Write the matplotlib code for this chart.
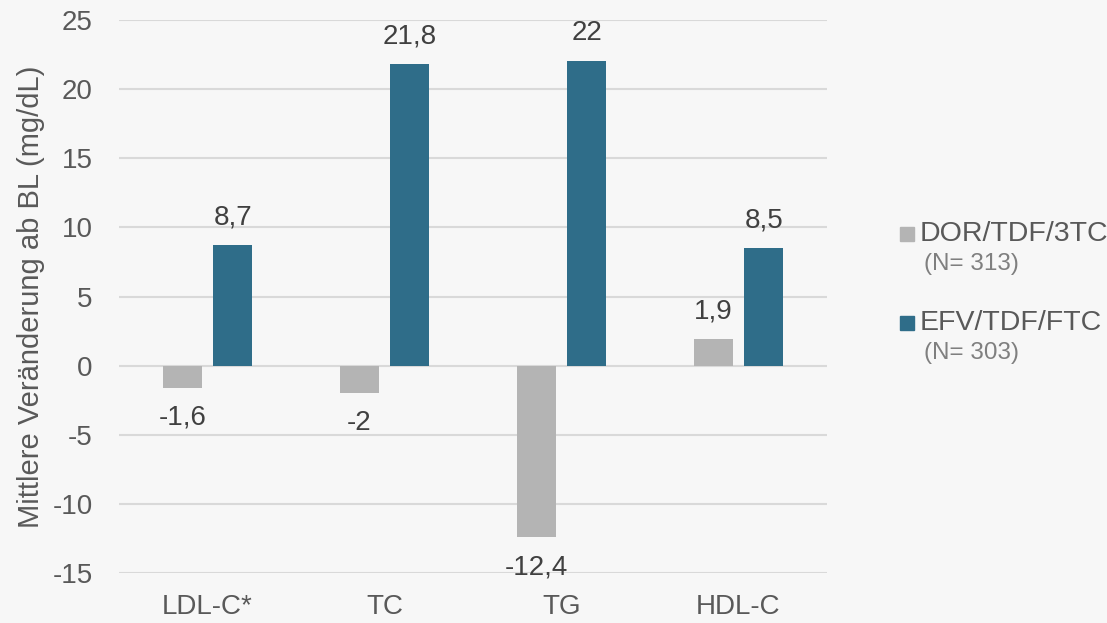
import matplotlib
matplotlib.use("Agg")
from matplotlib import pyplot as plt
from matplotlib import patches
import numpy as np

categories = ["LDL-C*", "TC", "TG", "HDL-C"]
dor_values = [-1.6, -2.0, -12.4, 1.9]
efv_values = [8.7, 21.8, 22.0, 8.5]
series_names = ["DOR/TDF/3TC", "EFV/TDF/FTC"]
series_n = ["(N= 313)", "(N= 303)"]
yticks = [-15, -10, -5, 0, 5, 10, 15, 20, 25]

gray = "#b4b4b4"
blue = "#2f6d89"
bg = "#f7f7f7"

plt.rcParams['font.family'] = ['Liberation Sans', 'DejaVu Sans']

fig = plt.figure(figsize=(11.07, 6.23), dpi=100, facecolor=bg)
ax = fig.add_axes([119/1107, 1-573/623, (827-119)/1107, 553/623])
ax.set_facecolor(bg)

x = np.arange(len(categories))
w = 0.22
off = 0.143

ax.bar(x - off, dor_values, w, color=gray, zorder=3)
ax.bar(x + off, efv_values, w, color=blue, zorder=3)

def fmt(v):
    s = ("%.1f" % v).replace(".", ",")
    if s.endswith(",0"):
        s = s[:-2]
    return s

# value labels: above positive bars, below negative ones
for vals, dx in ((dor_values, -off), (efv_values, off)):
    for xi, v in zip(x, vals):
        dy = 28 if v >= 0 else -30
        ax.annotate(fmt(v), (xi + dx, v), xytext=(0, dy), textcoords="offset pixels",
                    ha="center", va="center", fontsize=20, color="#404040", zorder=4)

ax.set_xlim(-0.5, len(categories) - 0.5)
ax.set_ylim(-15, 25)
ax.set_yticks(yticks)
ax.set_yticklabels([str(t) for t in yticks])
ax.set_xticks(x)
ax.set_xticklabels(categories)
ax.tick_params(axis="both", length=0, labelsize=20, colors="#595959")
ax.tick_params(axis="y", pad=19)
ax.tick_params(axis="x", pad=15)
for s in ax.spines.values():
    s.set_visible(False)
ax.grid(axis="y", color="#d9d9d9", lw=1.5, zorder=0)
ax.set_ylabel("Mittlere Veränderung ab BL (mg/dL)", fontsize=21, color="#595959", labelpad=5)

# legend drawn by hand so the N line can be styled separately
legend_y = [234, 323]
for col, name, n, ly in zip([gray, blue], series_names, series_n, legend_y):
    fig.patches.append(patches.Rectangle((900/1107, 1-(ly+7)/623), 14/1107, 14/623,
                                         transform=fig.transFigure, color=col))
    fig.text(920/1107, 1-ly/623, name, fontsize=20.5, color="#595959", va="center", ha="left")
    fig.text(924/1107, 1-(ly+30)/623, n, fontsize=17.5, color="#7f7f7f", va="center", ha="left")

fig.savefig("out.png", dpi=100, facecolor=bg)
